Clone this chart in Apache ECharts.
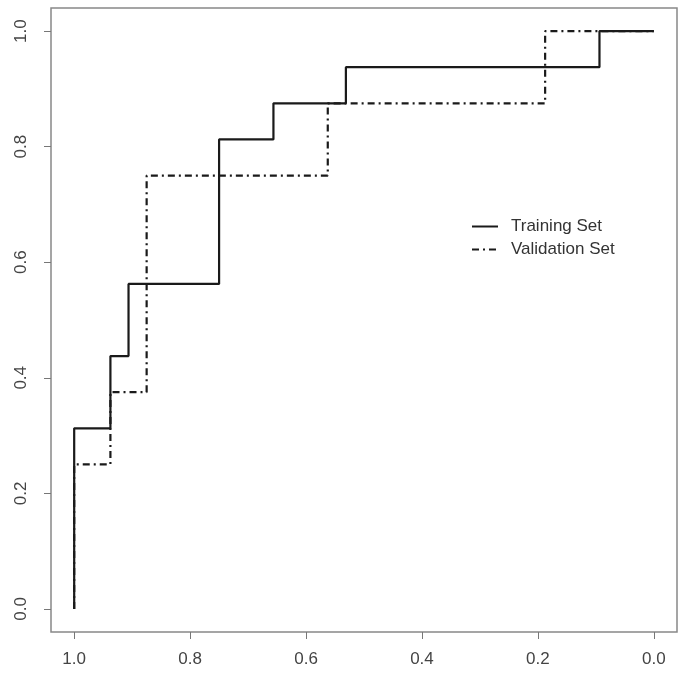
<!DOCTYPE html>
<html>
<head>
<meta charset="utf-8">
<script src="https://cdn.jsdelivr.net/npm/echarts@6/dist/echarts.min.js"></script>
<style>
  html, body { margin: 0; padding: 0; background: #fff; }
  #main { width: 685px; height: 679px; }
</style>
</head>
<body>
<div id="main"></div>
<script>
// ROC 曲线数据（特异度 / 灵敏度）
const tickValues = [0, 0.2, 0.4, 0.6, 0.8, 1.0];

const trainSpec = [1, 1, 0.9375, 0.9375, 0.90625, 0.90625, 0.75, 0.75, 0.65625, 0.65625, 0.53125, 0.53125, 0.09375, 0.09375, 0];
const trainSens = [0, 0.3125, 0.3125, 0.4375, 0.4375, 0.5625, 0.5625, 0.8125, 0.8125, 0.875, 0.875, 0.9375, 0.9375, 1, 1];

const validSpec = [1, 1, 0.9375, 0.9375, 0.875, 0.875, 0.5625, 0.5625, 0.1875, 0.1875, 0];
const validSens = [0, 0.25, 0.25, 0.375, 0.375, 0.75, 0.75, 0.875, 0.875, 1, 1];

const pairs = (xs, ys) => xs.map((x, i) => [x, ys[i]]);

const font = 'Liberation Sans, Arial, Helvetica, sans-serif';
const chart = echarts.init(document.getElementById('main'), null, { renderer: 'canvas' });

const axisCommon = {
  type: 'value',
  min: -0.04,
  max: 1.04,
  splitLine: { show: false },
  axisLine: { show: false, onZero: false },
  axisTick: {
    show: true,
    inside: false,
    length: 7,
    customValues: tickValues,
    lineStyle: { color: '#777', width: 1 }
  },
  axisLabel: {
    customValues: tickValues,
    formatter: v => v.toFixed(1),
    color: '#444',
    fontSize: 17,
    fontFamily: font
  }
};

chart.setOption({
  animation: false,
  backgroundColor: '#fff',
  grid: {
    left: 51,
    top: 8,
    width: 626,
    height: 624,
    show: true,
    borderColor: '#888',
    borderWidth: 1.5,
    backgroundColor: 'transparent'
  },
  xAxis: Object.assign({}, axisCommon, {
    inverse: true,
    axisLabel: Object.assign({}, axisCommon.axisLabel, { margin: 19 })
  }),
  yAxis: Object.assign({}, axisCommon, {
    axisLabel: Object.assign({}, axisCommon.axisLabel, { rotate: 90, margin: 21 })
  }),
  legend: {
    left: 466,
    top: 213,
    orient: 'vertical',
    itemWidth: 26,
    itemHeight: 14,
    itemGap: 6,
    itemStyle: { color: 'transparent', borderWidth: 0, opacity: 0 },
    textStyle: { fontSize: 17, color: '#333', fontFamily: font, padding: [0, 0, 0, 8] },
    data: ['Training Set', 'Validation Set']
  },
  series: [
    {
      name: 'Training Set',
      type: 'line',
      symbol: 'none',
      z: 4,
      itemStyle: { color: '#1a1a1a' },
      data: pairs(trainSpec, trainSens),
      lineStyle: { color: '#1a1a1a', width: 2.2, type: 'solid' }
    },
    {
      name: 'Validation Set',
      type: 'line',
      symbol: 'none',
      z: 2,
      itemStyle: { color: '#1a1a1a' },
      data: pairs(validSpec, validSens),
      lineStyle: { color: '#1a1a1a', width: 2.2, type: [7, 4, 2, 4] }
    }
  ]
});
</script>
</body>
</html>
